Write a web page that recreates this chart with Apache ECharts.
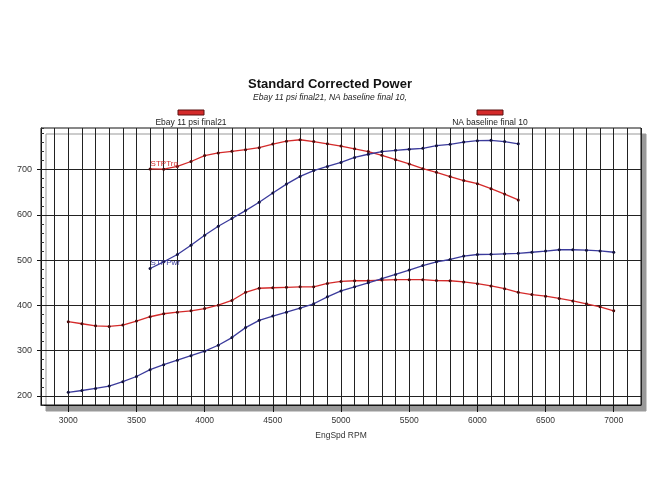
<!DOCTYPE html>
<html>
<head>
<meta charset="utf-8">
<script src="https://cdn.jsdelivr.net/npm/echarts@6/dist/echarts.min.js"></script>
<style>
html,body{margin:0;padding:0;background:#fff;}
#c{width:660px;height:495px;}
</style>
</head>
<body>
<div id="c"></div>
<script>
// ---- data ----
var rpmEbay = [3600,3700,3800,3900,4000,4100,4200,4300,4400,4500,4600,4700,4800,4900,5000,5100,5200,5300,5400,5500,5600,5700,5800,5900,6000,6100,6200,6300];
var ebayTrq = [701.5,701,707,718,731,737,740.5,744,748.5,756.6,763,766,762,757,752,746,740,731.6,722,712.5,702,694,684.6,676,669,658,646,633];
var ebayPwr = [481.5,496.4,512.5,533,555,575,592,609.5,628,648.5,668,685,698,707,716,727,734,740,742.6,745,747,753,756,761,764,764.7,762,757];
var rpmNA = [3000,3100,3200,3300,3400,3500,3600,3700,3800,3900,4000,4100,4200,4300,4400,4500,4600,4700,4800,4900,5000,5100,5200,5300,5400,5500,5600,5700,5800,5900,6000,6100,6200,6300,6400,6500,6600,6700,6800,6900,7000];
var naTrq = [364,359.5,355,353.6,356.6,365.5,375,381.6,385,388,393,400.6,411,429,438,439,440,441,441,448.5,453,454.5,454.5,456,457,457,457,455,454.5,452,448,443,437,429,424,420.5,415.5,410,403.6,397,388];
var naPwr = [208,212,216.6,221.8,231.5,243,258,269,279,289,299,312,329,351,367,376.5,385,394,403.6,419,432,441,450,459,468.4,478,488,496.4,501.5,509,512.5,513,514,515,517.5,520,523,523,522,520.5,517.5];
var xTicks = [3000,3500,4000,4500,5000,5500,6000,6500,7000];
var yTicks = [200,300,400,500,600,700];
var legendNames = ['Ebay 11 psi final21','NA baseline final 10'];
var titleText = 'Standard Corrected Power';
var subText = 'Ebay 11 psi final21, NA baseline final 10,';
var xName = 'EngSpd RPM';
var trqLabel = 'STPTrq';
var pwrLabel = 'STPPwr';

function pairs(xs, ys){ return xs.map(function(x,i){ return [x, ys[i]]; }); }
function withFirstLabel(arr, text, color){
  var d = arr.slice();
  d[0] = {value: d[0], label: {show: true, formatter: text, position: [2, -8], color: color, fontSize: 8, fontFamily: 'Liberation Sans'}};
  return d;
}
function plain(v){ return String(v); }

var RED = '#d42a2a', BLUE = '#3b3b9c';
var FONT = 'Liberation Sans';

var chart = echarts.init(document.getElementById('c'), null, {renderer: 'canvas'});
var lineSeries = function(name, data, color, dot){
  return {
    name: name, type: 'line', data: data, xAxisIndex: 0, yAxisIndex: 0,
    symbol: 'circle', symbolSize: 3, showSymbol: true, z: 3,
    lineStyle: {color: color, width: 1.3},
    itemStyle: {color: dot},
    animation: false, silent: true
  };
};

chart.setOption({
  animation: false,
  backgroundColor: '#fff',
  title: [
    {text: titleText, left: 'center', top: 78, padding: 0,
     textStyle: {fontFamily: FONT, fontSize: 13, fontWeight: 'bold', color: '#111'}},
    {text: subText, left: 'center', top: 93, padding: 0,
     textStyle: {fontFamily: FONT, fontSize: 8.5, fontStyle: 'italic', fontWeight: 'normal', color: '#222'}}
  ],
  grid: {left: 41, top: 128, right: 19, bottom: 90, show: true, backgroundColor: '#fff',
         borderColor: '#111', borderWidth: 1, shadowColor: '#999', shadowOffsetX: 5, shadowOffsetY: 6, shadowBlur: 0.01},
  xAxis: [
    {type: 'value', min: 2800, max: 7200, interval: 100,
     axisLine: {show: true, onZero: false, lineStyle: {color: '#111', width: 1}},
     axisTick: {show: false}, axisLabel: {show: false},
     splitLine: {show: true, lineStyle: {color: '#222', width: 1}}},
    {type: 'value', min: 2800, max: 7200, position: 'bottom',
     axisLine: {show: false, onZero: false},
     axisTick: {show: true, customValues: xTicks, length: 7, inside: false, lineStyle: {color: '#111'}},
     axisLabel: {show: true, customValues: xTicks, formatter: plain, margin: 11, fontSize: 8.5, fontFamily: FONT, color: '#333'},
     splitLine: {show: false},
     name: xName, nameLocation: 'middle', nameGap: 26,
     nameTextStyle: {fontFamily: FONT, fontSize: 8.5, color: '#333'}}
  ],
  yAxis: [
    {type: 'value', min: 180, max: 792, interval: 20,
     axisLine: {show: true, onZero: false, lineStyle: {color: '#111', width: 1}},
     axisTick: {show: true, inside: true, length: 3, lineStyle: {color: '#333'}},
     axisLabel: {show: false}, splitLine: {show: false}},
    {type: 'value', min: 180, max: 792, position: 'left',
     axisLine: {show: false, onZero: false},
     axisTick: {show: true, customValues: yTicks, length: 4, lineStyle: {color: '#111'}},
     axisLabel: {show: true, customValues: yTicks, formatter: plain, margin: 9, fontSize: 9, fontFamily: FONT, color: '#333'},
     splitLine: {show: false}}
  ],
  graphic: [
    {type: 'rect', shape: {x: 178, y: 110, width: 26, height: 5}, style: {fill: '#d42a2a', stroke: '#5a1010', lineWidth: 1}},
    {type: 'text', x: 191, y: 123, style: {text: legendNames[0], fill: '#222', font: '8.5px "Liberation Sans"', textAlign: 'center', textVerticalAlign: 'middle'}},
    {type: 'rect', shape: {x: 477, y: 110, width: 26, height: 5}, style: {fill: '#d42a2a', stroke: '#5a1010', lineWidth: 1}},
    {type: 'text', x: 490, y: 123, style: {text: legendNames[1], fill: '#222', font: '8.5px "Liberation Sans"', textAlign: 'center', textVerticalAlign: 'middle'}}
  ],
  series: [
    {type: 'line', data: [], xAxisIndex: 0, yAxisIndex: 0, z: 1, silent: true,
     markLine: {silent: true, z: 1, symbol: ['none', 'none'], label: {show: false}, animation: false,
       lineStyle: {color: '#222', width: 1, type: 'solid'},
       data: yTicks.map(function(v){ return [{coord: [2800, v]}, {coord: [7200, v]}]; })}},
    lineSeries(legendNames[0] + ' STPTrq', withFirstLabel(pairs(rpmEbay, ebayTrq), trqLabel, RED), RED, '#4a0d0d'),
    lineSeries(legendNames[0] + ' STPPwr', withFirstLabel(pairs(rpmEbay, ebayPwr), pwrLabel, BLUE), BLUE, '#14143e'),
    lineSeries(legendNames[1] + ' STPTrq', pairs(rpmNA, naTrq), RED, '#4a0d0d'),
    lineSeries(legendNames[1] + ' STPPwr', pairs(rpmNA, naPwr), BLUE, '#14143e')
  ]
});
</script>
</body>
</html>
